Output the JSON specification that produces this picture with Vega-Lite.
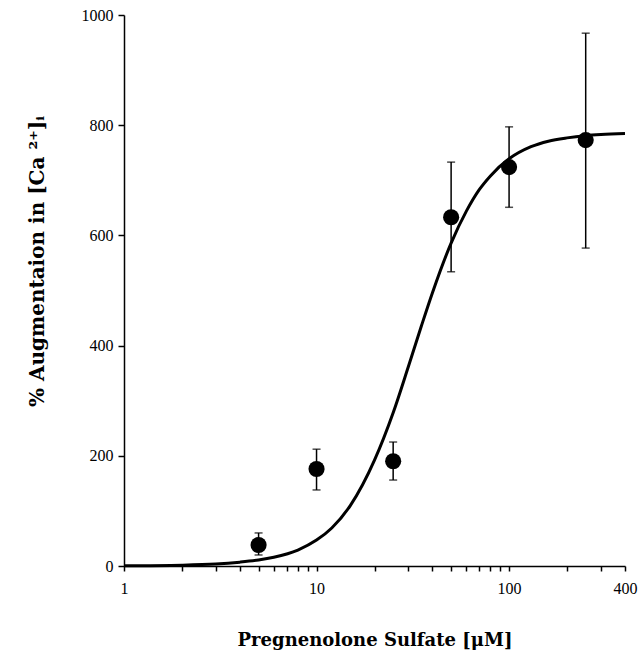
{
  "$schema": "https://vega.github.io/schema/vega-lite/v6.json",
  "width": 501,
  "height": 551,
  "autosize": {"type": "none"},
  "padding": {"left": 124, "top": 15, "right": 13, "bottom": 93},
  "background": "white",
  "config": {
    "view": {"stroke": null},
    "axis": {
      "grid": false,
      "domainColor": "black",
      "domainWidth": 1.5,
      "tickColor": "black",
      "tickWidth": 1.5,
      "labelFont": "Liberation Serif",
      "labelFontSize": 16,
      "labelColor": "black",
      "titleFont": "DejaVu Serif",
      "titleFontSize": 18,
      "titleFontWeight": "bold",
      "titleColor": "black"
    }
  },
  "datasets": {
    "pts": [
      {"conc": 5, "aug": 38, "lo": 20, "hi": 60},
      {"conc": 10, "aug": 176, "lo": 138, "hi": 212},
      {"conc": 25, "aug": 190, "lo": 156, "hi": 225},
      {"conc": 50, "aug": 633, "lo": 534, "hi": 733},
      {"conc": 100, "aug": 724, "lo": 651, "hi": 797},
      {"conc": 250, "aug": 773, "lo": 577, "hi": 967}
    ],
    "curve": [
      {"conc": 1, "aug": 0.5},
      {"conc": 2, "aug": 1.5},
      {"conc": 3, "aug": 3.5},
      {"conc": 4, "aug": 7},
      {"conc": 5, "aug": 11},
      {"conc": 6, "aug": 16},
      {"conc": 8, "aug": 29},
      {"conc": 10, "aug": 47},
      {"conc": 12, "aug": 69},
      {"conc": 15, "aug": 110},
      {"conc": 20, "aug": 192},
      {"conc": 25, "aug": 278},
      {"conc": 30, "aug": 362},
      {"conc": 35, "aug": 435},
      {"conc": 40, "aug": 496},
      {"conc": 50, "aug": 586},
      {"conc": 60, "aug": 644},
      {"conc": 70, "aug": 683},
      {"conc": 80, "aug": 708},
      {"conc": 100, "aug": 739},
      {"conc": 130, "aug": 761},
      {"conc": 160, "aug": 771},
      {"conc": 200, "aug": 777},
      {"conc": 250, "aug": 781},
      {"conc": 300, "aug": 783},
      {"conc": 400, "aug": 785}
    ]
  },
  "layer": [
    {
      "data": {"name": "curve"},
      "mark": {"type": "line", "color": "black", "strokeWidth": 3, "interpolate": "monotone"},
      "encoding": {
        "x": {
          "field": "conc", "type": "quantitative",
          "title": "Pregnenolone Sulfate [μM]",
          "scale": {"type": "log", "domain": [1, 400], "nice": false},
          "axis": {
            "values": [1, 2, 3, 4, 5, 6, 7, 8, 9, 10, 20, 30, 40, 50, 60, 70, 80, 90, 100, 200, 300, 400],
            "labelExpr": "(datum.value == 1 || datum.value == 10 || datum.value == 100 || datum.value == 400) ? datum.value : ''",
            "tickSize": 5,
            "labelPadding": 9,
            "titlePadding": 35,
            "labelFlush": false
          }
        },
        "y": {
          "field": "aug", "type": "quantitative",
          "title": "% Augmentaion in [Ca ²⁺]ᵢ",
          "scale": {"domain": [0, 1000], "nice": false},
          "axis": {
            "values": [0, 200, 400, 600, 800, 1000],
            "format": "d",
            "tickSize": 6,
            "labelPadding": 5,
            "titlePadding": 34,
            "titleFontSize": 20,
            "titleY": 246
          }
        }
      }
    },
    {
      "data": {"name": "pts"},
      "mark": {"type": "errorbar", "color": "black", "thickness": 1.5, "ticks": {"size": 8, "color": "black", "thickness": 1.5}},
      "encoding": {
        "x": {"field": "conc", "type": "quantitative", "title": "Pregnenolone Sulfate [μM]"},
        "y": {"field": "lo", "type": "quantitative", "title": "% Augmentaion in [Ca ²⁺]ᵢ"},
        "y2": {"field": "hi"}
      }
    },
    {
      "data": {"name": "pts"},
      "mark": {"type": "circle", "color": "black", "opacity": 1, "size": 260},
      "encoding": {
        "x": {"field": "conc", "type": "quantitative", "title": "Pregnenolone Sulfate [μM]"},
        "y": {"field": "aug", "type": "quantitative", "title": "% Augmentaion in [Ca ²⁺]ᵢ"}
      }
    }
  ]
}
